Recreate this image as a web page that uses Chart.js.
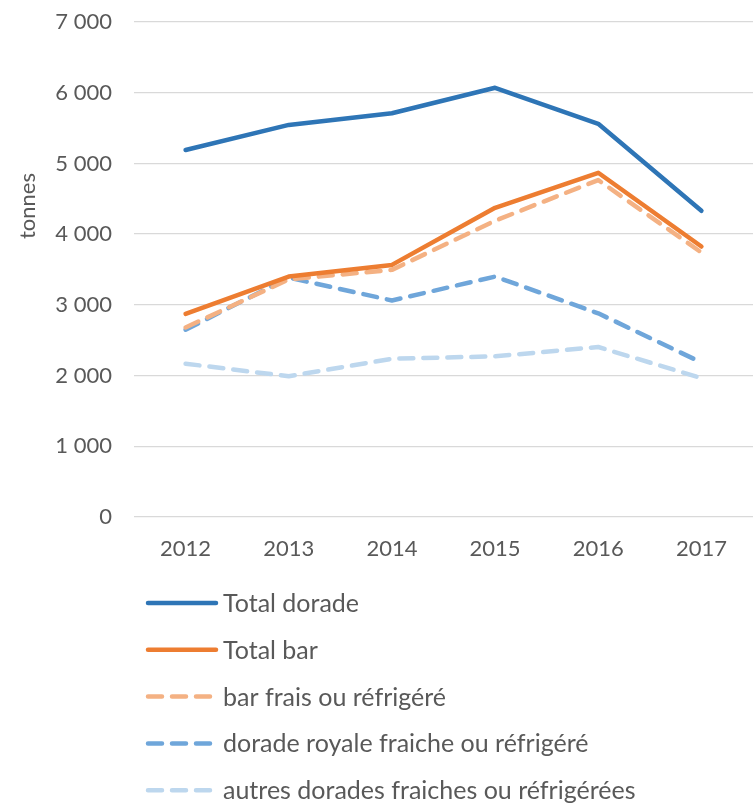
<!DOCTYPE html>
<html><head><meta charset="utf-8">
<script src="https://cdn.jsdelivr.net/npm/chart.js@4"></script>
<style>html,body{margin:0;padding:0;background:#fff;}#wrap{width:753px;height:808px;position:relative;}</style>
</head><body><div id="wrap"><canvas id="c" width="753" height="808"></canvas></div>
<script>
const years = ['2012','2013','2014','2015','2016','2017'];
const totalDorade = [5190, 5545, 5710, 6070, 5560, 4330];
const totalBar = [2873, 3400, 3565, 4372, 4868, 3825];
const barFrais = [2680, 3360, 3495, 4190, 4765, 3740];
const doradeRoyale = [2648, 3385, 3062, 3400, 2880, 2185];
const autresDorades = [2168, 1990, 2238, 2272, 2404, 1965];
const seriesNames = ['Total dorade','Total bar','bar frais ou réfrigéré','dorade royale fraiche ou réfrigéré','autres dorades fraiches ou réfrigérées'];
const yAxisTitle = 'tonnes';

const FONT = 'Lato, "Open Sans", sans-serif';
const TXT = '#595959';
function mk(label, data, color, dashed){
  return {label, data, borderColor: color, backgroundColor: color, borderWidth: 4.5,
    borderDash: dashed ? [14, 10] : [], borderCapStyle: 'round', borderJoinStyle: 'round',
    pointRadius: 0, pointHoverRadius: 0, fill: false, tension: 0};
}
const datasets = [
  mk(seriesNames[0], totalDorade, '#2E75B6', false),
  mk(seriesNames[1], totalBar, '#ED7D31', false),
  mk(seriesNames[2], barFrais, '#F4B183', true),
  mk(seriesNames[3], doradeRoyale, '#6FA6DA', true),
  mk(seriesNames[4], autresDorades, '#BDD7EE', true)
];

const legendPlugin = {
  id: 'vlegend',
  afterDraw(chart){
    const ctx = chart.ctx;
    ctx.save();
    // y-axis title
    ctx.fillStyle = TXT;
    ctx.font = '22px ' + FONT;
    ctx.textAlign = 'center';
    ctx.textBaseline = 'middle';
    ctx.translate(28, 206);
    ctx.rotate(-Math.PI/2);
    ctx.fillText(yAxisTitle, 0, 0);
    ctx.setTransform(1,0,0,1,0,0);
    const x0 = 148, x1 = 216, tx = 223, y0 = 603, dy = 46.8;
    chart.data.datasets.forEach((ds, i) => {
      const y = y0 + i*dy;
      ctx.strokeStyle = ds.borderColor;
      ctx.lineWidth = ds.borderWidth;
      ctx.lineCap = 'round';
      ctx.setLineDash(ds.borderDash.length ? [14, 10] : []);
      ctx.beginPath(); ctx.moveTo(x0, y); ctx.lineTo(x1, y); ctx.stroke();
      ctx.setLineDash([]);
      ctx.fillStyle = TXT;
      ctx.font = '25px ' + FONT;
      ctx.textBaseline = 'middle';
      ctx.textAlign = 'left';
      ctx.fillText(ds.label, tx, y + 1);
    });
    ctx.restore();
  }
};

new Chart(document.getElementById('c'), {
  type: 'line',
  data: { labels: years, datasets },
  options: {
    responsive: false, animation: false, devicePixelRatio: 1,
    layout: { padding: { top: 22, right: 0, bottom: 0, left: 0 } },
    plugins: { legend: { display: false }, tooltip: { enabled: false } },
    scales: {
      x: {
        offset: true,
        grid: { display: false, drawTicks: false },
        border: { display: false },
        ticks: { color: TXT, font: { family: FONT, size: 22 }, padding: 19 },
        afterFit(s){ s.height = 808 - 517; }
      },
      y: {
        min: 0, max: 7000,
        ticks: { stepSize: 1000, color: TXT, font: { family: FONT, size: 22 }, padding: 22,
          callback: v => String(v).replace(/\B(?=(\d{3})+(?!\d))/g, ' ') },
        grid: { color: '#D9D9D9', lineWidth: 1.3, drawTicks: false },
        border: { display: false },
        title: { display: false },
        afterFit(s){ s.width = 134; s.paddingTop = 10; s.paddingBottom = 10; }
      }
    }
  },
  plugins: [legendPlugin]
});
</script></body></html>
